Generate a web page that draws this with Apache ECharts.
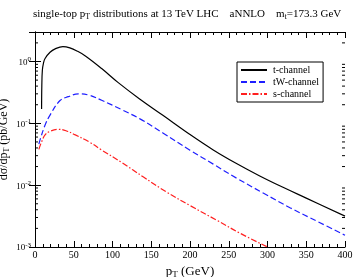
<!DOCTYPE html>
<html><head><meta charset="utf-8">
<script src="https://cdn.jsdelivr.net/npm/echarts@6/dist/echarts.min.js"></script>
<style>html,body{margin:0;padding:0;background:#fff}#c{width:354px;height:277px}</style>
</head><body><div id="c"></div>
<script>
var tPt  = [8.5, 8.8, 9.5, 11, 13, 19.4, 26, 36, 45, 55, 65, 86, 107, 135, 165, 200, 230, 260, 290, 320, 350, 400];
var tVal = [0.17, 0.4, 0.72, 0.95, 1.12, 1.41, 1.6, 1.74, 1.66, 1.46, 1.23, 0.77, 0.46, 0.248, 0.135, 0.066, 0.0372, 0.0224, 0.0141, 0.00923, 0.00617, 0.00316];
var wPt  = [5, 6.5, 12.9, 19.4, 32.3, 43, 56, 70, 86, 112, 136, 165, 200, 230, 260, 295, 329, 365, 400];
var wVal = [0.046, 0.054, 0.093, 0.136, 0.234, 0.27, 0.30, 0.285, 0.236, 0.166, 0.117, 0.07, 0.0367, 0.0219, 0.013, 0.0074, 0.00432, 0.00257, 0.00155];
var sPt  = [5, 9, 13, 19, 30, 40, 52, 70, 86, 112, 140, 170, 200, 235, 265, 300];
var sVal = [0.038, 0.052, 0.065, 0.074, 0.08, 0.076, 0.065, 0.05, 0.037, 0.0232, 0.0135, 0.0077, 0.00468, 0.00269, 0.00166, 0.001];
var seriesNames = ['t-channel', 'tW-channel', 's-channel'];
var xTicks = [0, 50, 100, 150, 200, 250, 300, 350, 400];

function pairs(x, y){ return x.map(function(v,i){ return [v, y[i]]; }); }
var minorVals = [];
for (var d = -3; d <= 0; d++) for (var m = 2; m <= 9; m++) { var v = m * Math.pow(10, d); if (v < 3) minorVals.push(v); }

var serif = 'Liberation Serif';
var chart = echarts.init(document.getElementById('c'), null, {renderer:'canvas'});
var yLab = function(v){
  var e = Math.round(Math.log10(v));
  if (Math.abs(Math.log10(v) - e) > 1e-6) return '';
  return '{b|10}{s|' + e + '}';
};
var yAxisBase = {
  type: 'log', logBase: 10, min: 0.001, max: 3,
  axisLine: {show: true, lineStyle: {color: '#000', width: 1}},
  axisTick: {show: true, inside: true, length: 6, lineStyle: {color: '#000'}},
  splitLine: {show: false}
};
var xAxisBase = {
  type: 'value', min: 0, max: 400, interval: 50,
  axisLine: {show: true, onZero: false, lineStyle: {color: '#000', width: 1}},
  axisTick: {show: true, inside: true, length: 6, lineStyle: {color: '#000'}},
  minorTick: {show: true, splitNumber: 5, length: 3, lineStyle: {color: '#000'}},
  splitLine: {show: false}
};
chart.setOption({
  animation: false,
  backgroundColor: '#fff',
  title: {
    text: '{n|single-top p}{sub|T}{n| distributions at 13 TeV LHC    aNNLO    m}{sub|t}{n|=173.3 GeV}',
    left: 28, top: 2,
    textStyle: {
      fontFamily: serif, fontWeight: 'normal', color: '#000',
      rich: {
        n: {fontFamily: serif, fontSize: 11, color: '#000', lineHeight: 14},
        sub: {fontFamily: serif, fontSize: 8, color: '#000', lineHeight: 14, verticalAlign: 'bottom'}
      }
    }
  },
  grid: {left: 35, right: 9, top: 32, bottom: 30, containLabel: false, outerBoundsMode: 'none'},
  legend: {
    data: seriesNames,
    orient: 'vertical', left: 237, top: 62,
    itemWidth: 26, itemHeight: 6, itemGap: 2,
    padding: [3, 4, 3, 3],
    borderColor: '#000', borderWidth: 1, backgroundColor: '#fff',
    itemStyle: {opacity: 0},
    textStyle: {fontFamily: serif, fontSize: 10, color: '#000', padding: [0, 0, 0, 1]}
  },
  xAxis: [
    Object.assign({}, xAxisBase, {
      position: 'bottom',
      name: '{n|p}{sub|T}{n| (GeV)}', nameLocation: 'middle', nameGap: 15,
      nameTextStyle: {rich: {
        n: {fontFamily: serif, fontSize: 13, color: '#000', lineHeight: 16},
        sub: {fontFamily: serif, fontSize: 9, color: '#000', lineHeight: 16, verticalAlign: 'bottom'}
      }},
      axisLabel: {show: true, fontFamily: serif, fontSize: 10, color: '#000', margin: 3,
        formatter: function(v){ return xTicks.indexOf(v) >= 0 ? String(v) : ''; }}
    }),
    Object.assign({}, xAxisBase, {position: 'top', axisLabel: {show: false}})
  ],
  yAxis: [
    Object.assign({}, yAxisBase, {
      position: 'left',
      name: '{n|d\u03c3/dp}{sub|T}{n| (pb/GeV)}', nameLocation: 'middle', nameGap: 24, nameRotate: 90,
      nameMoveOverlap: false,
      nameTextStyle: {rich: {
        n: {fontFamily: serif, fontSize: 12, color: '#000', lineHeight: 15},
        sub: {fontFamily: serif, fontSize: 8, color: '#000', lineHeight: 15, verticalAlign: 'bottom'}
      }},
      axisLabel: {show: true, margin: 4, showMaxLabel: false, formatter: yLab,
        rich: {
          b: {fontFamily: serif, fontSize: 9, color: '#000', lineHeight: 11, verticalAlign: 'bottom'},
          s: {fontFamily: serif, fontSize: 7, color: '#000', lineHeight: 11, verticalAlign: 'top'}
        }}
    }),
    Object.assign({}, yAxisBase, {position: 'right', axisLabel: {show: false}})
  ],
  series: [
    {name: seriesNames[0], type: 'line', data: pairs(tPt, tVal), smooth: 0.4, symbol: 'none',
      lineStyle: {color: '#000', width: 1.2, type: 'solid'}, itemStyle: {color: '#000'}},
    {name: seriesNames[1], type: 'line', data: pairs(wPt, wVal), smooth: 0.4, symbol: 'none',
      lineStyle: {color: '#1f1fff', width: 1.2, type: [6, 3]}, itemStyle: {color: '#1f1fff'}},
    {name: seriesNames[2], type: 'line', data: pairs(sPt, sVal), smooth: 0.4, symbol: 'none',
      lineStyle: {color: '#ff1f1f', width: 1.2, type: [6, 2, 1.5, 2]}, itemStyle: {color: '#ff1f1f'}},
    {type: 'custom', silent: true, data: minorVals.map(function(v){ return [0, v]; }),
      renderItem: function(params, api){
        var p = api.coord([0, api.value(1)]);
        var cs = params.coordSys;
        return {type: 'group', children: [
          {type: 'line', shape: {x1: cs.x, y1: p[1], x2: cs.x + 3, y2: p[1]}, style: {stroke: '#000', lineWidth: 1}},
          {type: 'line', shape: {x1: cs.x + cs.width, y1: p[1], x2: cs.x + cs.width - 3, y2: p[1]}, style: {stroke: '#000', lineWidth: 1}}
        ]};
      }}
  ]
});
</script></body></html>
